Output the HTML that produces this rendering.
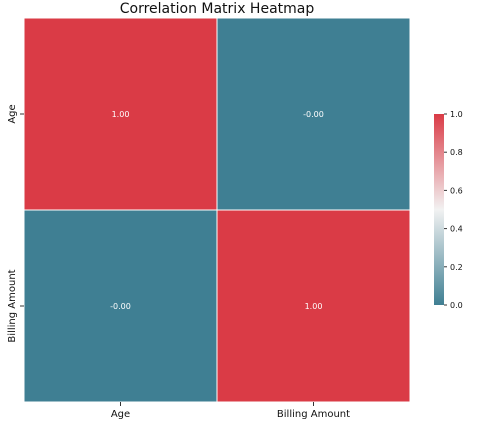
<!DOCTYPE html>
<html><head><meta charset="utf-8"><style>
body{margin:0;background:#fff;font-family:"Liberation Sans","DejaVu Sans",sans-serif}
svg text{font-family:"DejaVu Sans","Liberation Sans",sans-serif}
</style></head><body>
<svg id="chart" width="477" height="428" xmlns="http://www.w3.org/2000/svg">
<defs><linearGradient id="cb" x1="0" y1="1" x2="0" y2="0">
<stop offset="0" stop-color="#3f7f93"/><stop offset="0.5" stop-color="#f2f2f2"/><stop offset="1" stop-color="#da3b46"/>
</linearGradient></defs>
<text x="217" y="13" font-size="14" text-anchor="middle" fill="#111">Correlation Matrix Heatmap</text>
<g id="cells"></g>
<g id="axes"></g>
<rect x="434" y="114" width="10" height="191" fill="url(#cb)"/>
<g id="cbticks"></g>
</svg>
<script>
const labels=["Age","Billing Amount"];
const values=[[1.00,-0.00],[-0.00,1.00]];
const cbTicks=[0,0.2,0.4,0.6,0.8,1.0];
const NS="http://www.w3.org/2000/svg";
const x0=24,y0=18,w=386,h=384,n=labels.length,cw=w/n,ch=h/n;
function color(v){const t=(v+1)/2;const a=[63,127,147],m=[242,242,242],b=[218,59,70];
 let c;if(t<0.5){const s=t/0.5;c=a.map((x,i)=>x+(m[i]-x)*s);}else{const s=(t-0.5)/0.5;c=m.map((x,i)=>x+(b[i]-x)*s);}
 return `rgb(${c.map(Math.round).join(',')})`;}
// map v in [0,1] colorbar scale -> actual colormap centered at 0 with vmin -1? colorbar shows 0..1; use v directly
function cellColor(v){return v>=0.5?"#da3b46":"#3f7f93";}
function mk(tag,attrs,parent,text){const e=document.createElementNS(NS,tag);for(const k in attrs)e.setAttribute(k,attrs[k]);if(text!==undefined)e.textContent=text;parent.appendChild(e);return e;}
const cells=document.getElementById('cells'),axes=document.getElementById('axes'),cbt=document.getElementById('cbticks');
values.forEach((row,i)=>row.forEach((v,j)=>{
 const r=mk('rect',{x:x0+j*cw,y:y0+i*ch,width:cw,height:ch,fill:cellColor(v),stroke:"#fff","stroke-width":1},cells);
 
 
 const t=mk('text',{x:x0+j*cw+cw/2,y:y0+i*ch+ch/2+3,'font-size':8,'text-anchor':'middle',fill:'#fff'},cells,(Math.abs(v)<0.005&&Object.is(v,-0)||v<0?"-":"")+Math.abs(v).toFixed(2));
 
 
}));
labels.forEach((l,j)=>{
 const cx=x0+j*cw+cw/2;
 mk('line',{x1:cx,x2:cx,y1:y0+h,y2:y0+h+4,stroke:'#333'},axes);
 const t=mk('text',{x:cx,y:y0+h+15,'font-size':10,'text-anchor':'middle',fill:'#111'},axes,l);
 
 
 const cy=y0+j*ch+ch/2;
 mk('line',{x1:x0-4,x2:x0,y1:cy,y2:cy,stroke:'#333'},axes);
 const ty=mk('text',{x:15,y:cy,'font-size':10,'text-anchor':'middle',fill:'#111',transform:`rotate(-90 15 ${cy})`},axes,l);
 
 
});
cbTicks.forEach(v=>{
 const y=305-v*191;
 mk('line',{x1:444,x2:447,y1:y,y2:y,stroke:'#333'},cbt);
 const t=mk('text',{x:450,y:y+3,'font-size':8,fill:'#111'},cbt,v.toFixed(1));
 
 
});
</script>
</body></html>
